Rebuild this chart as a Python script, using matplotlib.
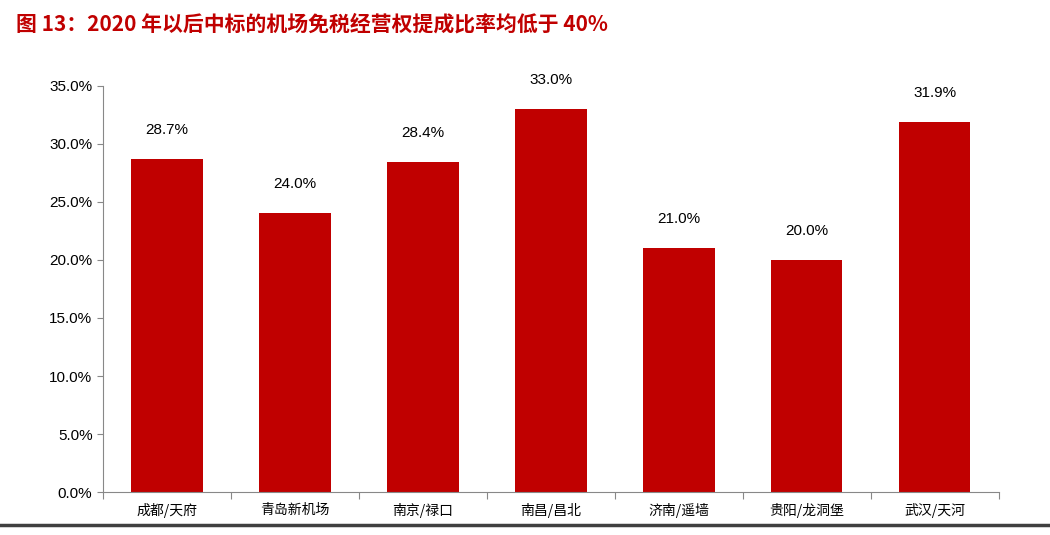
import matplotlib
matplotlib.use("Agg")
import matplotlib.pyplot as plt
from matplotlib.ticker import FuncFormatter

plt.rcParams['font.family'] = ['Noto Sans CJK SC', 'DejaVu Sans']

categories = ["成都/天府", "青岛新机场", "南京/禄口", "南昌/昌北", "济南/遥墙", "贵阳/龙洞堡", "武汉/天河"]
values = [28.7, 24.0, 28.4, 33.0, 21.0, 20.0, 31.9]
yticks = [0, 5, 10, 15, 20, 25, 30, 35]

fig = plt.figure(figsize=(10.5, 5.35), dpi=100)
ax = fig.add_axes([0.098, 0.08, 0.853, 0.76])
x = range(len(categories))
ax.bar(x, values, width=0.56, color="#C00000")
for i, v in enumerate(values):
    ax.text(i, v + 1.9, f"{v:.1f}%", ha="center", va="bottom", fontsize=11, family=['Arial', 'Liberation Sans', 'DejaVu Sans'])
ax.set_xlim(-0.5, len(categories) - 0.5)
ax.set_ylim(0, 35)
ax.set_yticks(yticks)
ax.yaxis.set_major_formatter(FuncFormatter(lambda v, p: f"{v:.1f}%"))
ax.set_xticks([i - 0.5 for i in range(len(categories) + 1)], minor=False)
ax.set_xticklabels([])
ax.set_xticks(list(x), minor=True)
ax.set_xticklabels(categories, minor=True, fontsize=10)
ax.tick_params(axis='x', which='minor', length=0, pad=8)
ax.tick_params(axis='x', which='major', length=5, direction='out', color='#888888')
ax.tick_params(axis='y', labelsize=11, length=4, color='#888888')
for lbl in ax.get_yticklabels():
    lbl.set_family(['Liberation Sans', 'DejaVu Sans'])
for s in ["top", "right"]:
    ax.spines[s].set_visible(False)
ax.spines["left"].set_color("#888888")
ax.spines["bottom"].set_color("#888888")

fig.text(0.015, 0.955, "图 13：2020 年以后中标的机场免税经营权提成比率均低于 40%", color="#C00000",
         fontsize=15, fontweight="bold", va="center", ha="left")
fig.add_artist(plt.Line2D([0.0, 1.0], [0.018, 0.018], color="#404040", linewidth=2.5))
fig.savefig("out.png", dpi=100)
